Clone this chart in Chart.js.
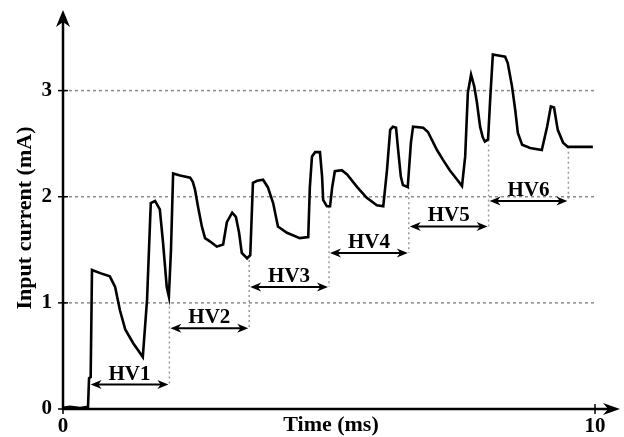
<!DOCTYPE html>
<html>
<head>
<meta charset="utf-8">
<script src="https://cdn.jsdelivr.net/npm/chart.js@4"></script>
<style>
  html, body { margin: 0; padding: 0; background: #fff; }
</style>
</head>
<body>
<canvas id="chart" width="624" height="437"></canvas>
<script>
// Measured trace (time in ms, current in mA)
const TIME = [
  0, 0.13, 0.32, 0.47, 0.49, 0.52, 0.545, 0.7, 0.88, 0.98, 1.07, 1.17, 1.32, 1.5,
  1.58, 1.65, 1.73, 1.82, 1.88, 1.95, 1.99, 2.03, 2.07, 2.2, 2.39, 2.44, 2.48, 2.54,
  2.61, 2.67, 2.76, 2.89, 3.01, 3.08, 3.18, 3.25, 3.31, 3.36, 3.46, 3.52, 3.57, 3.65,
  3.76, 3.85, 3.95, 4.04, 4.21, 4.45, 4.61, 4.64, 4.68, 4.74, 4.83, 4.87, 4.89, 4.96,
  5.02, 5.06, 5.11, 5.24, 5.34, 5.53, 5.71, 5.9, 6.02, 6.09, 6.15, 6.2, 6.26, 6.3,
  6.35, 6.39, 6.48, 6.54, 6.58, 6.77, 6.86, 7.03, 7.14, 7.27, 7.41, 7.5, 7.56, 7.61,
  7.67, 7.73, 7.78, 7.84, 7.89, 7.93, 7.99, 8.03, 8.08, 8.31, 8.36, 8.44, 8.5, 8.55,
  8.63, 8.78, 9.0, 9.1, 9.17, 9.23, 9.3, 9.4, 9.49, 9.66, 9.96
];
const CURRENT = [
  0.01, 0.02, 0.01, 0.02, 0.29, 0.3, 1.31, 1.28, 1.25, 1.15, 0.93, 0.75, 0.62, 0.49,
  1.03, 1.94, 1.96, 1.88, 1.57, 1.15, 1.06, 1.5, 2.22, 2.2, 2.18, 2.14, 2.07, 1.9,
  1.72, 1.61, 1.58, 1.53, 1.55, 1.76, 1.85, 1.81, 1.66, 1.47, 1.42, 1.45, 2.13, 2.15,
  2.16, 2.09, 1.94, 1.72, 1.66, 1.61, 1.62, 2.09, 2.38, 2.42, 2.42, 2.19, 1.97, 1.91,
  1.91, 2.09, 2.24, 2.25, 2.21, 2.09, 1.99, 1.92, 1.91, 2.25, 2.63, 2.66, 2.65, 2.44,
  2.19, 2.11, 2.09, 2.51, 2.66, 2.65, 2.61, 2.44, 2.35, 2.25, 2.16, 2.1, 2.38, 2.98,
  3.15, 3.04, 2.89, 2.66, 2.56, 2.52, 2.54, 2.92, 3.34, 3.32, 3.26, 3.04, 2.82, 2.6,
  2.49, 2.46, 2.44, 2.66, 2.85, 2.84, 2.63, 2.51, 2.47, 2.47, 2.47
];

const X_TICKS = [0, 10];
const Y_TICKS = [0, 1, 2, 3];

// HV intervals
const HV_LABELS = ['HV1', 'HV2', 'HV3', 'HV4', 'HV5', 'HV6'];
const HV_START = [0.5, 2.0, 3.5, 5.0, 6.5, 8.0];
const HV_END = [2.0, 3.5, 5.0, 6.5, 8.0, 9.5];
const HV_LEVEL = [0.23, 0.76, 1.15, 1.47, 1.72, 1.96];
const BOUNDARY_TOP = [1.06, 1.45, 1.91, 2.09, 2.54, 2.47];

const FONT = '"Liberation Serif", "Times New Roman", serif';

function arrowHead(ctx, tx, ty, angle, len, half) {
  ctx.save();
  ctx.translate(tx, ty);
  ctx.rotate(angle);
  ctx.beginPath();
  ctx.moveTo(0, 0);
  ctx.lineTo(-len, -half);
  ctx.lineTo(-len * 0.7, 0);
  ctx.lineTo(-len, half);
  ctx.closePath();
  ctx.fill();
  ctx.restore();
}

function seg(ctx, x1, y1, x2, y2) {
  ctx.beginPath();
  ctx.moveTo(x1, y1);
  ctx.lineTo(x2, y2);
  ctx.stroke();
}

function noEdgePadding(s) {
  s.paddingTop = 0;
  s.paddingBottom = 0;
  s.paddingLeft = 0;
  s.paddingRight = 0;
}

const decorations = {
  id: 'decorations',
  beforeDatasetsDraw(chart) {
    const { ctx, scales: { x, y } } = chart;
    ctx.save();
    ctx.strokeStyle = '#8c8c8c';
    ctx.lineWidth = 1.5;
    ctx.setLineDash([3, 3]);
    Y_TICKS.filter(v => v > 0).forEach(v => {
      const py = y.getPixelForValue(v);
      seg(ctx, x.getPixelForValue(0), py, x.getPixelForValue(X_TICKS[1]), py);
    });
    ctx.strokeStyle = '#9a9a9a';
    ctx.setLineDash([2, 3]);
    HV_END.forEach((t, i) => {
      const px = x.getPixelForValue(t);
      seg(ctx, px, y.getPixelForValue(BOUNDARY_TOP[i]), px, y.getPixelForValue(HV_LEVEL[i]));
    });
    ctx.restore();
  },
  afterDatasetsDraw(chart) {
    const { ctx, chartArea, scales: { x, y } } = chart;
    const ox = x.getPixelForValue(0);
    const oy = y.getPixelForValue(0);
    ctx.save();
    ctx.strokeStyle = '#000';
    ctx.fillStyle = '#000';

    // axes with arrows
    ctx.lineWidth = 2.5;
    seg(ctx, ox, oy + 1, ox, chartArea.top + 8);
    seg(ctx, ox - 1, oy, chartArea.right + 18, oy);
    arrowHead(ctx, ox, chartArea.top - 1, -Math.PI / 2, 17, 7);
    arrowHead(ctx, chartArea.right + 25, oy, 0, 17, 6);

    // tick marks
    ctx.lineWidth = 1.5;
    Y_TICKS.forEach(v => {
      const py = y.getPixelForValue(v);
      seg(ctx, ox - 5, py, ox + 5, py);
    });
    X_TICKS.forEach(v => {
      const px = x.getPixelForValue(v);
      seg(ctx, px, oy - 5, px, oy + 5);
    });

    // HV intervals
    ctx.lineWidth = 2;
    ctx.font = 'bold 21px ' + FONT;
    ctx.textAlign = 'center';
    ctx.textBaseline = 'alphabetic';
    HV_LABELS.forEach((lbl, i) => {
      const x1 = x.getPixelForValue(HV_START[i]) + 1;
      const x2 = x.getPixelForValue(HV_END[i]) - 1;
      const py = y.getPixelForValue(HV_LEVEL[i]);
      seg(ctx, x1 + 6, py, x2 - 6, py);
      arrowHead(ctx, x1, py, Math.PI, 11, 4.5);
      arrowHead(ctx, x2, py, 0, 11, 4.5);
      ctx.fillText(lbl, (x1 + x2) / 2, py - 5);
    });

    // axis titles
    ctx.font = 'bold 22px ' + FONT;
    ctx.textBaseline = 'middle';
    ctx.fillText('Time (ms)', 331, 425);
    ctx.translate(25, 218);
    ctx.rotate(-Math.PI / 2);
    ctx.fillText('Input current (mA)', 0, 0);
    ctx.restore();
  }
};

new Chart(document.getElementById('chart'), {
  type: 'line',
  data: {
    datasets: [{
      data: TIME.map((t, i) => ({ x: t, y: CURRENT[i] })),
      borderColor: '#000',
      borderWidth: 2.6,
      pointRadius: 0,
      tension: 0,
      fill: false
    }]
  },
  options: {
    responsive: false,
    animation: false,
    layout: { padding: { top: 11, right: 29, left: 0, bottom: 0 } },
    plugins: { legend: { display: false }, tooltip: { enabled: false } },
    scales: {
      x: {
        type: 'linear',
        min: 0,
        max: 10,
        afterBuildTicks: s => { s.ticks = X_TICKS.map(v => ({ value: v })); },
        afterFit: s => { s.height = 28; noEdgePadding(s); },
        grid: { display: false, drawTicks: false },
        border: { display: false },
        ticks: { color: '#000', padding: 5, maxRotation: 0, font: { family: FONT, size: 21, weight: 'bold' } }
      },
      y: {
        min: 0,
        max: 3.75,
        afterBuildTicks: s => { s.ticks = Y_TICKS.map(v => ({ value: v })); },
        afterFit: s => { s.width = 63; noEdgePadding(s); },
        grid: { display: false, drawTicks: false },
        border: { display: false },
        ticks: { color: '#000', padding: 11, font: { family: FONT, size: 21, weight: 'bold' } }
      }
    }
  },
  plugins: [decorations]
});
</script>
</body>
</html>
